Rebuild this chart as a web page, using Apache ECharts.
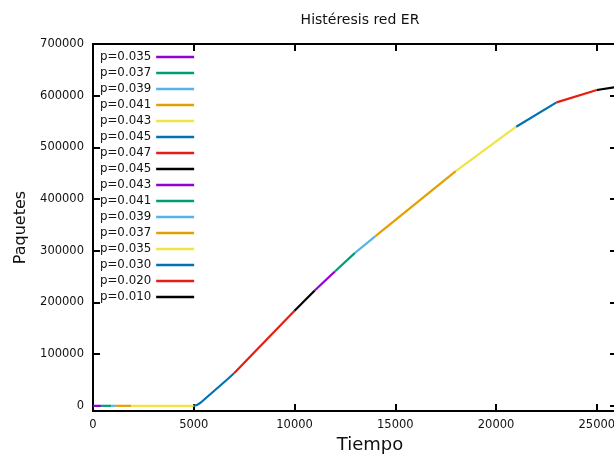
<!DOCTYPE html>
<html>
<head>
<meta charset="utf-8">
<style>
    html, body { margin: 0; padding: 0; background: #fff; }
    #histID { width: 614px; height: 456px; }
</style>
<script src="https://cdn.jsdelivr.net/npm/echarts@6/dist/echarts.min.js"></script>
</head>
<body>
<div id="histID"></div>
<script>
// Histéresis red ER

// etiquetas de la leyenda (una por serie)
const etiquetas = ['p=0.035', 'p=0.037', 'p=0.039', 'p=0.041', 'p=0.043', 'p=0.045', 'p=0.047', 'p=0.045',
    'p=0.043', 'p=0.041', 'p=0.039', 'p=0.037', 'p=0.035', 'p=0.030', 'p=0.020', 'p=0.010'];

// puntos de la curva
const tiempo   = [0, 400, 900, 1100, 1900, 5000, 5150, 5350, 6630, 7000, 10000, 11000, 12000, 13000, 14000, 18000, 21000, 23000, 25000, 26000];
const paquetes = [0, 0, 0, 0, 0, 0, 1500, 6500, 50000, 63000, 184000, 223000, 260000, 296000, 328000, 454000, 540000, 587000, 611000, 617000];

// indice donde empieza / termina cada tramo
const cortes = [0, 1, 2, 3, 4, 5, 9, 10, 11, 12, 13, 14, 15, 16, 17, 18, 19];

// marcas de los ejes
const ticksX = [0, 5000, 10000, 15000, 20000, 25000];
const ticksY = [0, 100000, 200000, 300000, 400000, 500000, 600000, 700000];

const colores = ['#9400d3', '#009e73', '#56b4e9', '#e69f00', '#f0e442', '#0072b2', '#e51e10', '#000000'];

const fuente = 'DejaVu Sans';

var chart = echarts.init(document.getElementById('histID'));

var series = etiquetas.map(function (et, i) {
    var datos = [];
    for (var k = cortes[i]; k <= cortes[i + 1]; k++) {
        datos.push([tiempo[k], paquetes[k]]);
    }
    return {
        name: 's' + i,
        type: 'line',
        symbol: 'none',
        color: colores[i % colores.length],
        lineStyle: { width: 2.2, color: colores[i % colores.length] },
        data: datos,
        z: 2 + i
    };
});

var tickComun = { inside: true, length: 7, lineStyle: { color: '#000', width: 2 } };
var sinLinea = { show: false, onZero: false };
var numero = function (v) { return String(v); };

const option = {
    animation: false,
    title: {
        text: 'Histéresis red ER',
        left: 355,
        top: 8,
        textAlign: 'center',
        textStyle: { fontFamily: fuente, fontSize: 14, fontWeight: 'normal', color: '#111' }
    },
    grid: {
        left: 93,
        right: -3,
        top: 44,
        bottom: 45,
        containLabel: false,
        outerBoundsMode: 'none',
        show: true,
        borderColor: '#000',
        borderWidth: 2,
        backgroundColor: 'transparent'
    },
    legend: {
        orient: 'vertical',
        left: 100,
        top: 50,
        padding: 0,
        align: 'right',
        itemWidth: 38,
        itemHeight: 14,
        itemGap: 2,
        icon: 'path://M0,0H38V2.4H0Z',
        selectedMode: false,
        data: etiquetas.map(function (et, i) { return 's' + i; }),
        formatter: function (name) { return etiquetas[+name.slice(1)]; },
        textStyle: { fontFamily: fuente, fontSize: 11.8, color: '#111', lineHeight: 14 }
    },
    xAxis: [{
        type: 'value',
        min: 0,
        max: 26000,
        name: 'Tiempo',
        nameLocation: 'middle',
        nameGap: 22,
        nameTextStyle: { fontFamily: fuente, fontSize: 18, color: '#111', padding: [0, 0, 0, 30] },
        axisLine: sinLinea,
        axisTick: Object.assign({ customValues: ticksX }, tickComun),
        axisLabel: { customValues: ticksX, formatter: numero, fontFamily: fuente, fontSize: 11.5, color: '#111', margin: 8 },
        splitLine: { show: false }
    }, {
        type: 'value',
        position: 'top',
        min: 0,
        max: 26000,
        axisLine: sinLinea,
        axisTick: Object.assign({ customValues: ticksX }, tickComun),
        axisLabel: { show: false },
        splitLine: { show: false }
    }],
    yAxis: [{
        type: 'value',
        min: -10000,
        max: 700000,
        name: 'Paquetes',
        nameLocation: 'middle',
        nameGap: 63,
        nameTextStyle: { fontFamily: fuente, fontSize: 16, color: '#111' },
        axisLine: sinLinea,
        axisTick: Object.assign({ customValues: ticksY }, tickComun),
        axisLabel: { customValues: ticksY, formatter: numero, fontFamily: fuente, fontSize: 11.5, color: '#111', margin: 9 },
        splitLine: { show: false }
    }, {
        type: 'value',
        position: 'right',
        min: -10000,
        max: 700000,
        axisLine: sinLinea,
        axisTick: Object.assign({ customValues: ticksY }, tickComun),
        axisLabel: { show: false },
        splitLine: { show: false }
    }],
    series: series
};

chart.setOption(option);
window.addEventListener('resize', function () {
    chart.resize();
});
</script>
</body>
</html>
